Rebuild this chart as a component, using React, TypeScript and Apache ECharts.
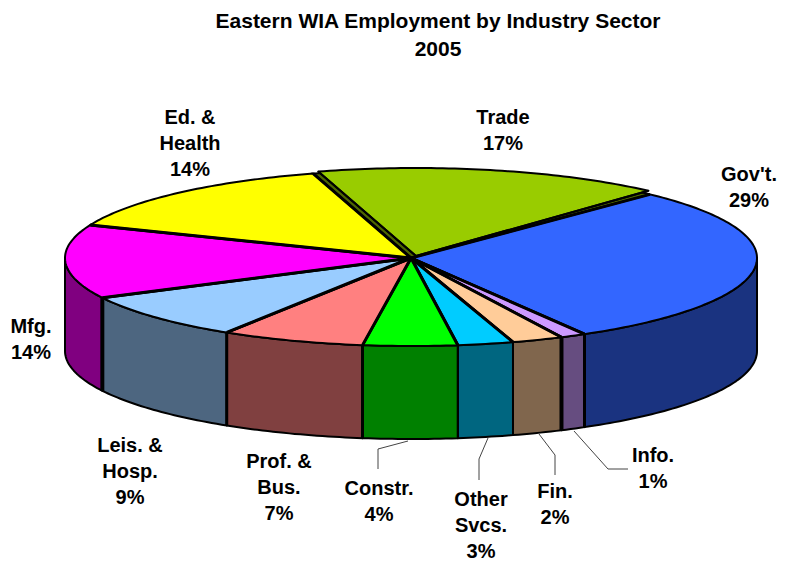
import React, { useEffect, useRef } from "react";
import * as echarts from "echarts";

const sectors = ["Gov't.", "Info.", "Fin.", "Other\nSvcs.", "Constr.", "Prof. &\nBus.", "Leis. &\nHosp.", "Mfg.", "Ed. &\nHealth", "Trade"];
const shares = [29.5, 1.2, 2.4, 2.6, 4.4, 6.7, 8.6, 13.6, 14.3, 16.7];
const percentLabels = ["29%", "1%", "2%", "3%", "4%", "7%", "9%", "14%", "14%", "17%"];
const topColors = ["#3366FF", "#CC99FF", "#FFCC99", "#00CCFF", "#00FF00", "#FF8080", "#99CCFF", "#FF00FF", "#FFFF00", "#99CC00"];
const wallColors = ["#1A3380", "#664D80", "#80664D", "#006680", "#008000", "#804040", "#4D6680", "#800080", "#808000", "#4D6600"];
// weight of the vertical line at the start of each wall
const dividerWidths = [0, 3, 4, 2, 2, 3, 3, 4, 0, 0];

// label centres, separate from the data
const labelX = [749, 653, 555, 481, 379, 279, 130, 31, 190, 503];
const labelY = [187, 468, 504, 525, 501, 487, 471, 339, 143, 130];

// leader lines (Constr., Other, Fin., Info.)
const leaders: number[][][] = [
  [[408, 441], [378, 449], [378, 469]],
  [[488, 438], [479, 459], [479, 480]],
  [[539, 434], [555, 455], [555, 475]],
  [[574, 431], [608, 469], [628, 469]],
];

const CX = 411;
const CY = 258;
const RX = 346;
const RY = 88;
const DEPTH = 93;
const START = 43.7; // degrees clockwise from the back of the pie
const TRADE_SHIFT = [5, -2];
const TRADE_TRIM = 1.5;

const total = shares.reduce((a, b) => a + b, 0);
const cumulative: number[] = [];
shares.reduce((acc, v, i) => {
  cumulative[i] = acc;
  return acc + v;
}, 0);
const angleOf = (share: number) => START + (share / total) * 360;

const pt = (deg: number, dx = 0, dy = 0): number[] => {
  const r = (deg * Math.PI) / 180;
  return [CX + dx + RX * Math.sin(r), CY + dy - RY * Math.cos(r)];
};

const arc = (a: number, b: number, dx = 0, dy = 0): number[][] => {
  const out: number[][] = [];
  const n = Math.max(2, Math.ceil(Math.abs(b - a)));
  for (let i = 0; i <= n; i++) out.push(pt(a + ((b - a) * i) / n, dx, dy));
  return out;
};

const topShape = (i: number, dx: number, dy: number, trim = 0) => {
  const a = angleOf(cumulative[i]);
  const b = angleOf(cumulative[i] + shares[i]) - trim;
  const apex = [CX + dx, CY + dy];
  return { poly: [apex, ...arc(a, b, dx, dy)], radial: [pt(b, dx, dy), apex, pt(a, dx, dy)] };
};

const wallsRender = (_p: any, api: any) => {
  const i = _p.dataIndex;
  const children: any[] = [];
  if (sectors[i] === "Trade") {
    const { poly } = topShape(i, 0, 0);
    children.push({
      type: "polygon",
      shape: { points: poly },
      style: { fill: wallColors[i], stroke: "#000", lineWidth: 2 },
    });
    return { type: "group", children };
  }
  let a = angleOf(cumulative[i]);
  let b = angleOf(cumulative[i] + api.value(0));
  a = Math.max(a, 90);
  b = Math.min(b, 270);
  if (b <= a) return { type: "group", children };
  const upper = arc(a, b);
  const lower = arc(b, a, 0, DEPTH);
  children.push({
    type: "polygon",
    shape: { points: [...upper, ...lower] },
    style: { fill: wallColors[i], stroke: "#000", lineWidth: 2, lineJoin: "round" },
  });
  if (dividerWidths[i] > 0) {
    children.push({
      type: "polyline",
      shape: { points: [pt(a), pt(a, 0, DEPTH)] },
      style: { fill: "none", stroke: "#000", lineWidth: dividerWidths[i] },
    });
  }
  return { type: "group", children };
};

const topsRender = (p: any) => {
  const i = p.dataIndex;
  const isTrade = sectors[i] === "Trade";
  const shift = isTrade ? TRADE_SHIFT : [0, 0];
  const { poly, radial } = topShape(i, shift[0], shift[1], isTrade ? TRADE_TRIM : 0);
  return {
    type: "group",
    children: [
      {
        type: "polygon",
        shape: { points: poly },
        style: { fill: topColors[i], stroke: "#000", lineWidth: 2, lineJoin: "round" },
      },
      {
        type: "polyline",
        shape: { points: radial },
        style: { fill: "none", stroke: "#000", lineWidth: isTrade ? 2 : 3, lineJoin: "bevel" },
      },
    ],
  };
};

const labelsRender = (p: any) => {
  const i = p.dataIndex;
  return {
    type: "text",
    x: labelX[i],
    y: labelY[i],
    style: {
      text: sectors[i] + "\n" + percentLabels[i],
      fill: "#000",
      font: 'bold 20px "Liberation Sans", Arial, sans-serif',
      lineHeight: 26,
      align: "center",
      verticalAlign: "middle",
    },
  };
};

const leadersRender = (p: any) => ({
  type: "polyline",
  shape: { points: leaders[p.dataIndex] },
  style: { fill: "none", stroke: "#444", lineWidth: 1 },
});

export default function App() {
  const ref = useRef<HTMLDivElement>(null);
  useEffect(() => {
    if (!ref.current) return;
    const chart = echarts.init(ref.current, null, { renderer: "svg" });
    const data = shares.map((v, i) => ({ name: sectors[i], value: [v] }));
    chart.setOption({
      animation: false,
      backgroundColor: "#fff",
      title: {
        text: "Eastern WIA Employment by Industry Sector\n2005",
        left: 433,
        top: 1,
        textAlign: "center",
        textStyle: {
          fontFamily: '"Liberation Sans", Arial, sans-serif',
          fontWeight: "bold",
          fontSize: 21,
          lineHeight: 28,
          color: "#000",
        },
      },
      series: [
        { type: "custom", coordinateSystem: "none", silent: true, data, renderItem: wallsRender, z: 1 },
        { type: "custom", coordinateSystem: "none", silent: true, data, renderItem: topsRender, z: 2 },
        { type: "custom", coordinateSystem: "none", silent: true, data: leaders.map((_, i) => [i]), renderItem: leadersRender, z: 3 },
        { type: "custom", coordinateSystem: "none", silent: true, data, renderItem: labelsRender, z: 4 },
      ],
    });
    return () => chart.dispose();
  }, []);
  return <div ref={ref} style={{ position: "absolute", left: 0, top: 0, width: 785, height: 565 }} />;
}
